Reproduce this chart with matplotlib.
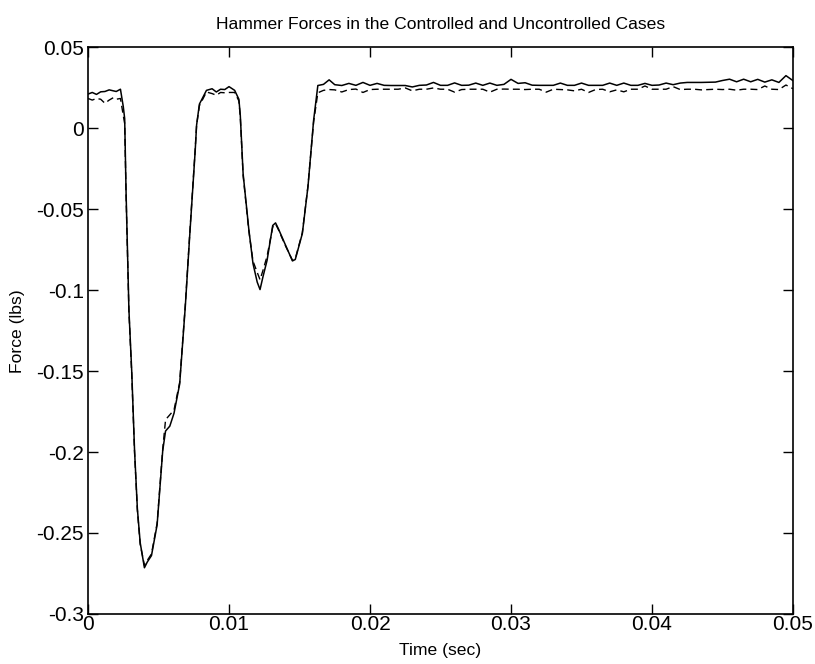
import numpy as np
import matplotlib
matplotlib.use('Agg')
import matplotlib.pyplot as plt

plt.rcParams['font.family'] = ['Liberation Sans', 'DejaVu Sans']

# time samples (sec) -- dense through the hammer impact, then every 0.5 ms
t_impact = [0.0000, 0.0003, 0.0006, 0.0009, 0.0012, 0.0015, 0.0018, 0.0020, 0.0023, 0.0025,
            0.0026, 0.0027, 0.0029, 0.0031, 0.0033, 0.0035, 0.0037, 0.0040, 0.0042, 0.0045,
            0.0049, 0.0053, 0.0055, 0.0058, 0.0061, 0.0065, 0.0069, 0.0072, 0.0076, 0.0077,
            0.0079, 0.0084, 0.0088, 0.0091, 0.0094, 0.0097, 0.0100, 0.0104, 0.0107, 0.0108,
            0.0110, 0.0114, 0.0117, 0.0120, 0.0122, 0.0124, 0.0127, 0.0131, 0.0133, 0.0135,
            0.0140, 0.0145, 0.0147, 0.0152, 0.0156, 0.0160, 0.0163, 0.0167, 0.0171]
t_tail = [0.0175, 0.0180, 0.0185, 0.0190, 0.0195, 0.0200, 0.0205, 0.0210, 0.0215, 0.0220,
          0.0225, 0.0230, 0.0235, 0.0240, 0.0245, 0.0250, 0.0255, 0.0260, 0.0265, 0.0270,
          0.0275, 0.0280, 0.0285, 0.0290, 0.0295, 0.0300, 0.0305, 0.0310, 0.0315, 0.0320,
          0.0325, 0.0330, 0.0335, 0.0340, 0.0345, 0.0350, 0.0355, 0.0360, 0.0365, 0.0370,
          0.0375, 0.0380, 0.0385, 0.0390, 0.0395, 0.0400, 0.0405, 0.0410, 0.0415, 0.0420,
          0.0425, 0.0430, 0.0435, 0.0440, 0.0445, 0.0450, 0.0455, 0.0460, 0.0465, 0.0470,
          0.0475, 0.0480, 0.0485, 0.0490, 0.0495, 0.0500]

# solid line
force_a_impact = [0.0212, 0.0222, 0.0210, 0.0226, 0.0228, 0.0238, 0.0232, 0.0228, 0.0242, 0.0135,
                  0.0060, -0.0400, -0.1120, -0.1500, -0.1990, -0.2350, -0.2560, -0.2715, -0.2680, -0.2640,
                  -0.2450, -0.1990, -0.1870, -0.1840, -0.1760, -0.1580, -0.1100, -0.0680, -0.0140, 0.0020,
                  0.0150, 0.0235, 0.0245, 0.0225, 0.0242, 0.0240, 0.0258, 0.0235, 0.0180, 0.0080,
                  -0.0280, -0.0620, -0.0835, -0.0950, -0.0996, -0.0920, -0.0815, -0.0600, -0.0584, -0.0620,
                  -0.0720, -0.0819, -0.0810, -0.0650, -0.0360, 0.0050, 0.0265, 0.0272, 0.0300]
force_a_tail = [0.0270, 0.0265, 0.0278, 0.0266, 0.0284, 0.0266, 0.0278, 0.0266, 0.0265, 0.0265,
                0.0265, 0.0256, 0.0266, 0.0268, 0.0284, 0.0266, 0.0266, 0.0281, 0.0266, 0.0267,
                0.0280, 0.0266, 0.0280, 0.0266, 0.0272, 0.0303, 0.0278, 0.0282, 0.0267, 0.0266,
                0.0266, 0.0266, 0.0280, 0.0266, 0.0266, 0.0280, 0.0266, 0.0266, 0.0266, 0.0280,
                0.0266, 0.0280, 0.0266, 0.0266, 0.0278, 0.0266, 0.0268, 0.0280, 0.0270, 0.0280,
                0.0284, 0.0284, 0.0284, 0.0285, 0.0286, 0.0296, 0.0304, 0.0288, 0.0304, 0.0288,
                0.0303, 0.0286, 0.0300, 0.0284, 0.0326, 0.0295]

# dashed line
force_b_impact = [0.0185, 0.0175, 0.0185, 0.0180, 0.0155, 0.0175, 0.0190, 0.0180, 0.0185, 0.0080,
                  0.0030, -0.0420, -0.1130, -0.1520, -0.2000, -0.2360, -0.2570, -0.2700, -0.2670, -0.2630,
                  -0.2440, -0.1980, -0.1800, -0.1770, -0.1740, -0.1570, -0.1090, -0.0670, -0.0130, 0.0020,
                  0.0140, 0.0225, 0.0215, 0.0205, 0.0222, 0.0220, 0.0222, 0.0222, 0.0170, 0.0070,
                  -0.0290, -0.0630, -0.0820, -0.0890, -0.0935, -0.0880, -0.0790, -0.0610, -0.0590, -0.0625,
                  -0.0725, -0.0815, -0.0805, -0.0645, -0.0355, 0.0040, 0.0220, 0.0235, 0.0240]
force_b_tail = [0.0238, 0.0225, 0.0240, 0.0243, 0.0222, 0.0240, 0.0242, 0.0242, 0.0242, 0.0242,
                0.0250, 0.0232, 0.0242, 0.0242, 0.0250, 0.0242, 0.0242, 0.0224, 0.0240, 0.0242,
                0.0242, 0.0242, 0.0224, 0.0242, 0.0243, 0.0242, 0.0242, 0.0240, 0.0242, 0.0242,
                0.0224, 0.0242, 0.0240, 0.0238, 0.0232, 0.0242, 0.0222, 0.0240, 0.0242, 0.0226,
                0.0238, 0.0226, 0.0242, 0.0242, 0.0262, 0.0242, 0.0242, 0.0242, 0.0258, 0.0240,
                0.0242, 0.0242, 0.0238, 0.0240, 0.0242, 0.0240, 0.0242, 0.0236, 0.0242, 0.0242,
                0.0240, 0.0262, 0.0242, 0.0240, 0.0268, 0.0245]

x_ticks = [0, 0.01, 0.02, 0.03, 0.04, 0.05]
x_labels = ['0', '0.01', '0.02', '0.03', '0.04', '0.05']
y_ticks = [-0.3, -0.25, -0.2, -0.15, -0.1, -0.05, 0, 0.05]
y_labels = ['-0.3', '-0.25', '-0.2', '-0.15', '-0.1', '-0.05', '0', '0.05']

t = np.array(t_impact + t_tail)
force_a = np.array(force_a_impact + force_a_tail)
force_b = np.array(force_b_impact + force_b_tail)

fig = plt.figure(figsize=(8.15, 6.64), dpi=100)
ax = fig.add_axes([0.108, 0.0755, 0.865, 0.853])

ax.plot(t, force_a, color='black', lw=1.1)
ax.plot(t, force_b, color='black', lw=1.0, dashes=(5, 3))

ax.set_xlim(0, 0.05)
ax.set_ylim(-0.3, 0.05)
ax.set_xticks(x_ticks)
ax.set_xticklabels(x_labels)
ax.set_yticks(y_ticks)
ax.set_yticklabels(y_labels)
ax.tick_params(direction='in', length=7, width=1, top=True, right=True,
               labelsize=15, pad=3)
ax.tick_params(axis='x', pad=1)
for s in ax.spines.values():
    s.set_linewidth(1.2)

ax.set_title('Hammer Forces in the Controlled and Uncontrolled Cases', fontsize=12.6, pad=13)
ax.set_xlabel('Time (sec)', fontsize=12.6, labelpad=6)
ax.set_ylabel('Force (lbs)', fontsize=12.6, labelpad=8)

fig.savefig('out.png', dpi=100)
